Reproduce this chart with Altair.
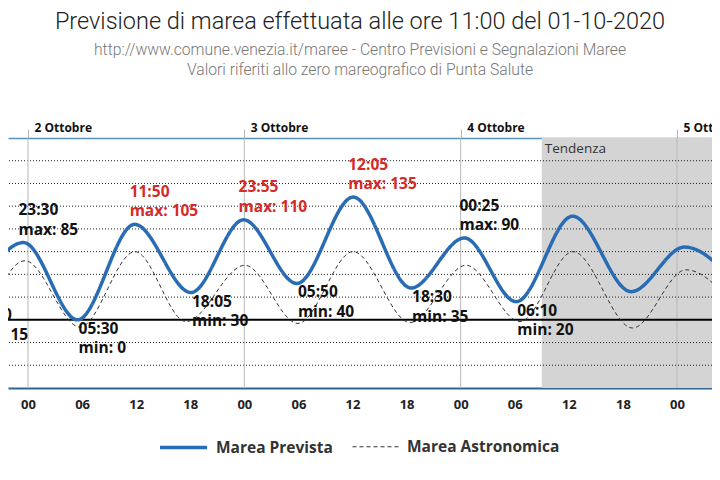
import altair as alt
import pandas as pd

# ---- data ----
prev_times = ["2020-10-01T17:40", "2020-10-01T23:30", "2020-10-02T05:30", "2020-10-02T11:50",
              "2020-10-02T18:05", "2020-10-02T23:55", "2020-10-03T05:50", "2020-10-03T12:05",
              "2020-10-03T18:30", "2020-10-04T00:25", "2020-10-04T06:10", "2020-10-04T12:25",
              "2020-10-04T18:55", "2020-10-05T00:50", "2020-10-05T07:00"]
prev_values = [15, 85, 0, 105, 30, 110, 40, 135, 35, 90, 20, 114, 31, 80, 34]
prev_kind = ["min", "max", "min", "max", "min", "max", "min", "max", "min", "max", "min",
             "max", "min", "max", "min"]

astro_times = ["2020-10-01T17:50", "2020-10-01T23:40", "2020-10-02T05:46", "2020-10-02T11:52",
               "2020-10-02T17:32", "2020-10-03T00:04", "2020-10-03T05:57", "2020-10-03T12:04",
               "2020-10-03T18:23", "2020-10-04T00:36", "2020-10-04T06:35", "2020-10-04T12:28",
               "2020-10-04T19:04", "2020-10-05T01:00", "2020-10-05T07:10"]
astro_values = [-45, 65, -8, 75, -2, 60, -4, 75, -3, 60, -2, 75, -9, 55, 5]

tendenza_start = "2020-10-04T09:00"
tendenza_end = "2020-10-05T12:00"
days = ["2020-10-01T00:00", "2020-10-02T00:00", "2020-10-03T00:00", "2020-10-04T00:00", "2020-10-05T00:00"]
hour_ticks = [f"2020-10-0{d}T{h:02d}:00" for d in range(1, 6) for h in (0, 6, 12, 18)]
grid_levels = [-50, -25, 25, 50, 75, 100, 125, 150, 175]
y_domain = [-75, 200]
series = ["Marea Prevista", "Marea Astronomica"]

TITLE = "Previsione di marea effettuata alle ore 11:00 del 01-10-2020"
SUBTITLE = ["http://www.comune.venezia.it/maree - Centro Previsioni e Segnalazioni Maree",
            "Valori riferiti allo zero mareografico di Punta Salute"]

# ---- tables ----
lines = pd.concat([
    pd.DataFrame({"t": astro_times, "v": astro_values, "serie": series[1]}),
    pd.DataFrame({"t": prev_times, "v": prev_values, "serie": series[0]}),
])
lab = pd.DataFrame({"t": prev_times, "v": prev_values, "kind": prev_kind})
lab = lab[lab["t"] < tendenza_start].copy()
lab["txt"] = [f"{t[11:16]}\n{k}: {v}" for t, k, v in zip(lab["t"], lab["kind"], lab["v"])]
days_df = pd.DataFrame({"t": days})
grid_df = pd.DataFrame({"v": grid_levels})
tend_df = pd.DataFrame({"t": [tendenza_start], "t2": [tendenza_end], "lab": ["Tendenza"]})

def dt(s):
    d, h = s.split("T")
    y, mo, da = map(int, d.split("-"))
    hh, mm = map(int, h.split(":"))
    return alt.DateTime(year=y, month=mo, date=da, hours=hh, minutes=mm)

xscale = alt.Scale(domain=[dt("2020-10-01T21:47"), dt("2020-10-05T03:53")], nice=False)
yscale = alt.Scale(domain=y_domain, nice=False, zero=False)
FONT = "Open Sans"

legend_kw = dict(title=None, orient="none", legendX=150, legendY=284, direction="horizontal",
                 symbolType="stroke", symbolSize=2209, labelFont=FONT, labelFontWeight="bold",
                 labelFontSize=15.5, labelColor="#333", columnPadding=17, labelOffset=7)

rect = alt.Chart(tend_df).mark_rect(color="#d4d4d4", clip=True).encode(
    x=alt.X("t:T", scale=xscale, axis=None), x2="t2:T",
    y=alt.datum(y_domain[1], scale=yscale, axis=None), y2=alt.datum(y_domain[0]))

grid = alt.Chart(grid_df).mark_rule(color="#222", strokeWidth=1, strokeDash=[1, 2]).encode(
    y=alt.Y("v:Q", scale=yscale, axis=None))

zero = alt.Chart(pd.DataFrame({"v": [0]})).mark_rule(color="#000", strokeWidth=2).encode(
    y=alt.Y("v:Q", scale=yscale, axis=None))

dayrules = alt.Chart(days_df).mark_rule(color="#b8b8b8", strokeWidth=1, clip=True).encode(
    x=alt.X("t:T", scale=xscale, axis=alt.Axis(
        orient="top", values=[dt(d) for d in days], format="%-d Ottobre", title=None,
        tickSize=9, tickColor="#b8b8b8", domainColor="#5b8fc0", domainWidth=1.5,
        labelAlign="left", labelOffset=6, labelPadding=-5, labelFlush=False,
        labelOverlap=False, labelBound=False, labelFont=FONT, labelFontWeight="bold",
        labelFontSize=12, labelColor="#111", grid=False)))

line = alt.Chart(lines).mark_line(interpolate="monotone", clip=True).encode(
    x=alt.X("t:T", scale=xscale, axis=alt.Axis(
        orient="bottom", values=[dt(h) for h in hour_ticks], format="%H", title=None,
        ticks=False, labelPadding=10, domainColor="#2f6596", domainWidth=2,
        labelFlush=False, labelOverlap=False, labelFont=FONT, labelFontWeight="bold",
        labelFontSize=13, labelColor="#222", grid=False)),
    y=alt.Y("v:Q", scale=yscale, axis=None),
    color=alt.Color("serie:N", scale=alt.Scale(domain=series, range=["#2a6cb3", "#333333"]),
                    legend=alt.Legend(**legend_kw)),
    strokeDash=alt.StrokeDash("serie:N", scale=alt.Scale(domain=series, range=[[1, 0], [4, 3]]),
                              legend=alt.Legend(**legend_kw)),
    strokeWidth=alt.StrokeWidth("serie:N", scale=alt.Scale(domain=series, range=[3.5, 1]),
                                legend=alt.Legend(**legend_kw)),
)

lab_color = alt.condition(alt.datum.v >= 100, alt.value("#d42a2a"), alt.value("#111"))
maxlab = alt.Chart(lab).transform_filter(alt.datum.kind == "max").mark_text(
    align="left", baseline="bottom", dx=-5, dy=-24.5, lineBreak="\n", lineHeight=19.5,
    font=FONT, fontWeight="bold", fontSize=15.5).encode(
    x=alt.X("t:T", scale=xscale, axis=None), y=alt.Y("v:Q", scale=yscale, axis=None),
    text="txt:N", color=lab_color)
minlab = alt.Chart(lab).transform_filter(alt.datum.kind == "min").mark_text(
    align="left", baseline="top", dx=1, dy=2, lineBreak="\n", lineHeight=19.5,
    font=FONT, fontWeight="bold", fontSize=15.5).encode(
    x=alt.X("t:T", scale=xscale, axis=None), y=alt.Y("v:Q", scale=yscale, axis=None),
    text="txt:N", color=lab_color)

tend_txt = alt.Chart(tend_df).mark_text(
    align="left", baseline="top", dx=3, dy=4, font=FONT, fontSize=13.5, color="#333").encode(
    x=alt.X("t:T", scale=xscale, axis=None), y=alt.datum(y_domain[1], scale=yscale, axis=None),
    text="lab:N")

chart = alt.layer(rect, grid, dayrules, zero, line, maxlab, minlab, tend_txt).resolve_axis(
    x="independent").properties(
    width=704, height=250,
    autosize=alt.AutoSizeParams(type="none"),
    padding={"left": 0, "right": 0, "top": 130, "bottom": 92},
    background="white",
    title=alt.TitleParams(TITLE, subtitle=SUBTITLE, anchor="middle", offset=43,
                          font="Roboto", fontWeight=300, fontSize=23.5, color="#222",
                          subtitleFont="Roboto", subtitleFontWeight=300, subtitleFontSize=15.7,
                          subtitleColor="#777", subtitleLineHeight=20.5, subtitlePadding=9),
).configure_view(strokeWidth=0)

chart.save("out.html", embed_options={"renderer": "svg", "actions": False})
